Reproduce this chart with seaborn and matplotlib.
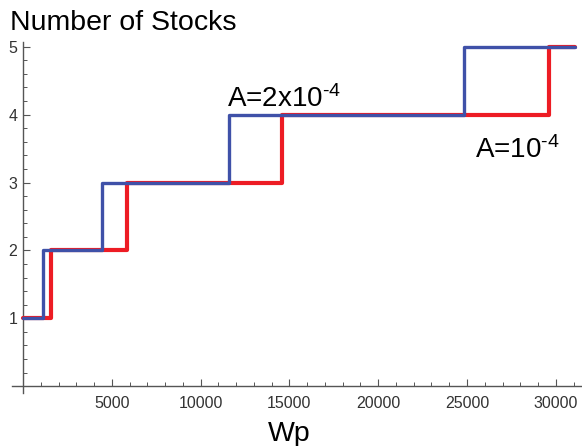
import numpy as np
import pandas as pd
import matplotlib
matplotlib.use("Agg")
import matplotlib.pyplot as plt
import seaborn as sns
from matplotlib.ticker import FixedLocator

# ---- data (step-post: value holds from x until next x) ----
wp_a1 = [0, 1560, 5870, 14570, 29620, 31080]      # A = 1e-4 (red)
n_a1 = [1, 2, 3, 4, 5, 5]
wp_a2 = [0, 1110, 4430, 11600, 24810, 31080]      # A = 2e-4 (blue)
n_a2 = [1, 2, 3, 4, 5, 5]
x_major = [5000, 10000, 15000, 20000, 25000, 30000]
y_major = [1, 2, 3, 4, 5]

df1 = pd.DataFrame({"Wp": wp_a1, "N": n_a1})
df2 = pd.DataFrame({"Wp": wp_a2, "N": n_a2})

sns.set_style("white")
plt.rcParams['font.family'] = ['Liberation Sans', 'DejaVu Sans']
plt.rcParams['text.color'] = 'black'
plt.rcParams['mathtext.fontset'] = 'custom'
plt.rcParams['mathtext.rm'] = 'Liberation Sans'
plt.rcParams['mathtext.default'] = 'rm'

W, H = 582, 446
fig = plt.figure(figsize=(W / 100, H / 100), dpi=100)
ax = fig.add_axes([12 / W, 53 / H, 570 / W, 351 / H])

red = "#ED1C24"
blue = "#3F51A8"
sns.lineplot(data=df1, x="Wp", y="N", ax=ax, color=red, linewidth=3.0,
             drawstyle="steps-post", estimator=None, sort=False, zorder=3)
sns.lineplot(data=df2, x="Wp", y="N", ax=ax, color=blue, linewidth=2.4,
             drawstyle="steps-post", estimator=None, sort=False, zorder=4)

ax.set_xlim(-620, 31475)
ax.set_ylim(-0.1, 5.07)
ax.set_xlabel("")
ax.set_ylabel("")

for s in ["top", "right"]:
    ax.spines[s].set_visible(False)
ax.spines["left"].set_position(("data", 0))
ax.spines["bottom"].set_position(("data", 0))
for s in ["left", "bottom"]:
    ax.spines[s].set_color("#555555")
    ax.spines[s].set_linewidth(1.0)

ax.xaxis.set_major_locator(FixedLocator(x_major))
ax.yaxis.set_major_locator(FixedLocator(y_major))
ax.xaxis.set_minor_locator(FixedLocator([v for v in range(1000, 31001, 1000) if v % 5000]))
ax.yaxis.set_minor_locator(FixedLocator([round(v * 0.2, 1) for v in range(1, 26) if v % 5]))
ax.set_xticklabels([str(v) for v in x_major])
ax.set_yticklabels([str(v) for v in y_major])

ax.tick_params(axis="both", which="both", bottom=True, left=True, top=False, right=False)
ax.tick_params(axis="both", which="major", direction="in", length=5, width=0.8,
               color="#555555", labelsize=11.5, labelcolor="#333333")
ax.tick_params(axis="both", which="minor", direction="in", length=3, width=0.7,
               color="#555555")
ax.tick_params(axis="x", which="major", pad=7)
ax.tick_params(axis="y", which="major", pad=4)

ax.text(11490, 4.11, r"A=2x10$^{\text{-}4}$", fontsize=20, va="baseline", ha="left",
        color="black")
ax.text(25450, 3.36, r"A=10$^{\text{-}4}$", fontsize=20, va="baseline", ha="left",
        color="black")

fig.text(10 / W, 1 - 30 / H, "Number of Stocks", fontsize=20.5, va="baseline", ha="left",
         color="black")
fig.text(289 / W, 1 - 441 / H, "Wp", fontsize=20.5, va="baseline", ha="center", color="black")

fig.savefig("out.png", dpi=100)
